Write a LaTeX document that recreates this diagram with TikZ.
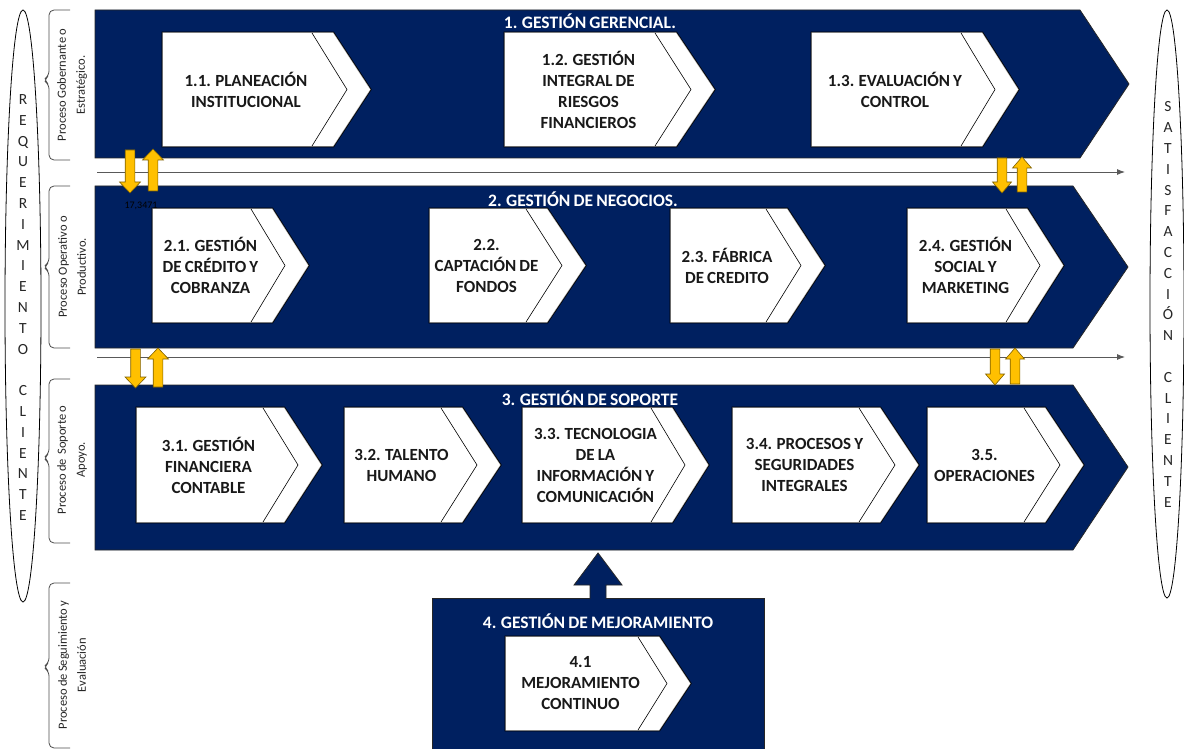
\documentclass[tikz,border=0pt]{standalone}
\usepackage{fontspec}
\setmainfont{Carlito}[WordSpace=0.8]
\usetikzlibrary{arrows.meta}

\definecolor{navy}{HTML}{002060}
\definecolor{gold}{HTML}{FFC000}
\definecolor{goldedge}{HTML}{7F6000}

\tikzset{
  band/.style={fill=navy, draw=black!85, line width=0.8pt},
  chevedge/.style={fill=white, draw=black, line width=2.8pt, line join=miter},
  chevinner/.style={draw=gray!70, line width=1.2pt, line join=miter},
  chevline/.style={draw=black, line width=0.6pt},
  ctext/.style={font=\bfseries\fontsize{17}{21}\selectfont, align=center, text=black!90, inner sep=0pt},
  ttext/.style={font=\bfseries\fontsize{17.5}{20}\selectfont, text=white, inner sep=0pt},
  yarrow/.style={fill=gold, draw=goldedge, line width=0.6pt, line join=miter},
  flow/.style={draw=black!65, line width=0.9pt, -{Latex[length=8pt,width=6pt]}},
  oval/.style={draw=black, line width=0.8pt},
  ovaltext/.style={font=\fontsize{15.5}{20.8}\selectfont, align=center, text=black!85, inner sep=0pt},
  bracket/.style={draw=black!70, line width=0.8pt, rounded corners=5pt},
  sidetext/.style={font=\fontsize{12.5}{19}\selectfont, align=center, rotate=90, text=black!85, inner sep=0pt},
}

% chevron box: #1 name, #2 left, #3 top, #4 bottom, #5 corner x, #6 tip x, #7 text
\newcommand\chevbox[7]{%
  \pgfmathsetmacro\chvmid{(#3+#4)/2}%
  \pgfmathsetmacro\chvtx{(#2+#5)/2-2}%
  \path[chevedge] (#2,#3) -- (#5,#3) -- (#6,\chvmid) -- (#5,#4) -- (#2,#4) -- cycle;
  \path[chevinner] (#2,#3) -- (#5,#3) -- (#6,\chvmid) -- (#5,#4) -- (#2,#4) -- cycle;
  \path[fill=white] (#2,#3) -- (#5,#3) -- (#6,\chvmid) -- (#5,#4) -- (#2,#4) -- cycle;
  \draw[chevline] ({#5-21},#3) -- ({#6-23},\chvmid) -- ({#5-21},#4);
  \node[ctext] (#1) at (\chvtx,\chvmid) {#7};
}

% yellow block arrows: #1 centre x, #2 top y, #3 bottom y, #4 half head width
\newcommand\yeldown[4]{%
  \path[yarrow] ({#1-4.8},#2) -- ({#1+4.8},#2) -- ({#1+4.8},{#3-11}) -- ({#1+#4},{#3-11})
     -- (#1,#3) -- ({#1-#4},{#3-11}) -- ({#1-4.8},{#3-11}) -- cycle;
}
\newcommand\yelup[4]{%
  \path[yarrow] ({#1-4.8},#3) -- ({#1+4.8},#3) -- ({#1+4.8},{#2+11}) -- ({#1+#4},{#2+11})
     -- (#1,#2) -- ({#1-#4},{#2+11}) -- ({#1-4.8},{#2+11}) -- cycle;
}

\begin{document}
\begin{tikzpicture}[x=1pt,y=-1pt]
\useasboundingbox (0,0) rectangle (1184,749);

% client ovals
\draw[oval] (23,306) ellipse [x radius=18, y radius=296];
\node[ovaltext] (req) at (23,307.5) {R\\E\\Q\\U\\E\\R\\I\\M\\I\\E\\N\\T\\O\\[20.8pt]C\\L\\I\\E\\N\\T\\E};
\draw[oval] (1167,304) ellipse [x radius=17, y radius=294];
\node[ovaltext] (sat) at (1168,304.5) {S\\A\\T\\I\\S\\F\\A\\C\\C\\I\\Ó\\N\\[20.8pt]C\\L\\I\\E\\N\\T\\E};

% process brackets
\draw[bracket] (70,10) -- (49,10) -- (49,76) -- (43,80) -- (49,84) -- (49,160) -- (70,160);
\node[sidetext] (p1) at (72,85) {Proceso Gobernante o\\Estratégico.};
\draw[bracket] (70,186) -- (49,186) -- (49,263) -- (43,267) -- (49,271) -- (49,348) -- (70,348);
\node[sidetext] (p2) at (72,267) {Proceso Operativo o\\Productivo.};
\draw[bracket] (70,379) -- (49,379) -- (49,454) -- (43,458) -- (49,462) -- (49,543) -- (70,543);
\node[sidetext] (p3) at (72,460) {Proceso de\ \ Soporte o\\Apoyo.};
\draw[bracket] (70,583) -- (49,583) -- (49,663) -- (43,667) -- (49,671) -- (49,748) -- (70,748);
\node[sidetext] (p4) at (72,665) {Proceso de Seguimiento y\\Evaluación};

% process bands
\path[band] (95,10) -- (1080,10) -- (1129,84) -- (1080,158) -- (95,158) -- cycle;
\path[band] (95,186) -- (1073,186) -- (1128,267) -- (1073,348) -- (95,348) -- cycle;
\path[band] (95,385) -- (1073,385) -- (1128,467) -- (1073,550) -- (95,550) -- cycle;
\path[band] (432,598) rectangle (764,749);
\path[band] (590,599) -- (590,585) -- (574,585) -- (598,553) -- (622,585) -- (606,585) -- (606,599);

% band titles
\node[ttext] (t1) at (590,21) {1. GESTIÓN GERENCIAL.};
\node[ttext] (t2) at (583,199) {2. GESTIÓN DE NEGOCIOS.};
\node[ttext] (t3) at (590,398) {3. GESTIÓN DE SOPORTE};
\node[ttext] (t4) at (598,621) {4. GESTIÓN DE MEJORAMIENTO};

% strategic processes
\chevbox{c11}{163}{33}{146}{333}{370}{1.1. PLANEACIÓN\\INSTITUCIONAL}
\chevbox{c12}{505}{33}{146}{676}{714}{1.2. GESTIÓN\\INTEGRAL DE\\RIESGOS\\FINANCIEROS}
\chevbox{c13}{812}{33}{146}{982}{1018}{1.3. EVALUACIÓN Y\\CONTROL}

% operative processes
\chevbox{c21}{153}{209}{322}{272}{308}{2.1. GESTIÓN\\DE CRÉDITO Y\\COBRANZA}
\chevbox{c22}{430}{209}{322}{547}{585}{2.2.\\CAPTACIÓN DE\\FONDOS}
\chevbox{c23}{671}{209}{322}{787}{824}{2.3. FÁBRICA\\DE CREDITO}
\chevbox{c24}{908}{209}{322}{1027}{1063}{2.4. GESTIÓN\\SOCIAL Y\\MARKETING}

% support processes
\chevbox{c31}{137}{408}{522}{284}{321}{3.1. GESTIÓN\\FINANCIERA\\CONTABLE}
\chevbox{c32}{345}{408}{522}{462}{500}{3.2. TALENTO\\HUMANO}
\chevbox{c33}{523}{408}{522}{672}{708}{3.3. TECNOLOGIA\\DE LA\\INFORMACIÓN Y\\COMUNICACIÓN}
\chevbox{c34}{733}{408}{522}{880}{918}{3.4. PROCESOS Y\\SEGURIDADES\\INTEGRALES}
\chevbox{c35}{928}{408}{522}{1045}{1083}{3.5.\\OPERACIONES}

% improvement process
\chevbox{c41}{506}{637}{730}{659}{690}{4.1\\MEJORAMIENTO\\CONTINUO}

% flow lines between bands
\coordinate (f1a) at (97,172);
\coordinate (f1b) at (1125,172);
\coordinate (f2a) at (97,357);
\coordinate (f2b) at (1125,357);
\draw[flow] (f1a) -- (f1b);
\draw[flow] (f2a) -- (f2b);

% exchange arrows
\yeldown{130}{150}{193}{10.5}
\yelup{153}{149}{191}{10.5}
\yeldown{1002}{158}{193}{9.5}
\yelup{1022}{157}{192}{9.5}
\yeldown{135.5}{349}{388}{10.5}
\yelup{158}{348}{387}{10.5}
\yeldown{995}{349}{385}{9.5}
\yelup{1015}{348}{384}{9.5}

\node[font=\fontsize{10}{12}\selectfont, text=black, inner sep=0pt] (val) at (141,206) {17,3471};
\end{tikzpicture}
\end{document}
